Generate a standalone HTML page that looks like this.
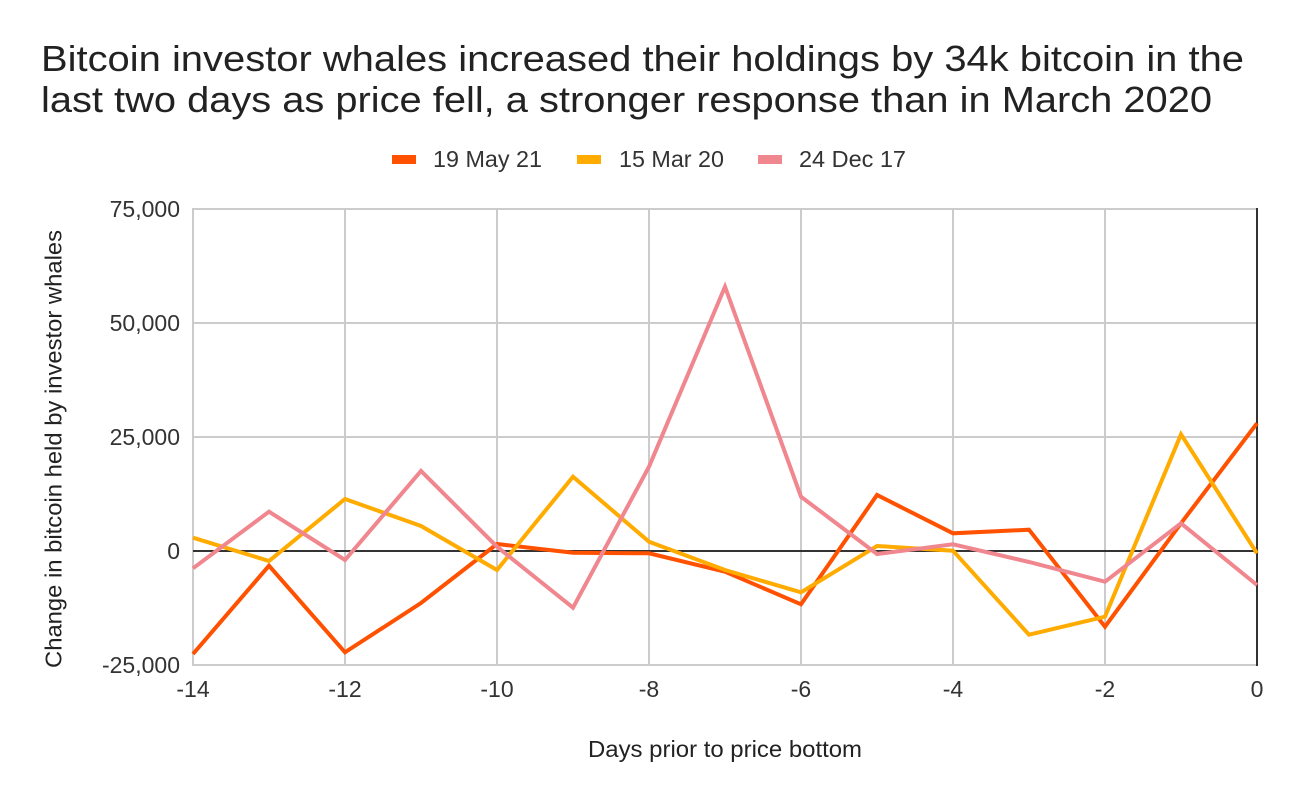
<!DOCTYPE html>
<html>
<head>
<meta charset="utf-8">
<style>
html,body{margin:0;padding:0;background:#fff;}
svg{display:block;}
text{font-family:"Liberation Sans",Arial,sans-serif;}
</style>
</head>
<body>
<svg width="1298" height="802" viewBox="0 0 1298 802" xmlns="http://www.w3.org/2000/svg">
<rect x="0" y="0" width="1298" height="802" fill="#fff"/>
<!-- Title -->
<text x="41" y="71" font-size="36" fill="#222" textLength="1203" lengthAdjust="spacingAndGlyphs">Bitcoin investor whales increased their holdings by 34k bitcoin in the</text>
<text x="41" y="112" font-size="36" fill="#222" textLength="1171" lengthAdjust="spacingAndGlyphs">last two days as price fell, a stronger response than in March 2020</text>
<!-- Legend -->
<rect x="392" y="155" width="24" height="9" fill="#FF5100"/>
<text x="433" y="167" font-size="23" fill="#333" textLength="109" lengthAdjust="spacingAndGlyphs">19 May 21</text>
<rect x="577" y="155" width="24" height="9" fill="#FFAB00"/>
<text x="619" y="167" font-size="23" fill="#333" textLength="105" lengthAdjust="spacingAndGlyphs">15 Mar 20</text>
<rect x="758" y="155" width="24" height="9" fill="#F0868E"/>
<text x="799" y="167" font-size="23" fill="#333" textLength="107" lengthAdjust="spacingAndGlyphs">24 Dec 17</text>
<!-- Grid -->
<g stroke="#cccccc" stroke-width="2" fill="none">
<line x1="192" y1="209" x2="1257" y2="209"/>
<line x1="192" y1="323" x2="1257" y2="323"/>
<line x1="192" y1="437" x2="1257" y2="437"/>
<line x1="192" y1="665" x2="1257" y2="665"/>
<line x1="193" y1="208" x2="193" y2="666"/>
<line x1="345" y1="208" x2="345" y2="666"/>
<line x1="497" y1="208" x2="497" y2="666"/>
<line x1="649" y1="208" x2="649" y2="666"/>
<line x1="801" y1="208" x2="801" y2="666"/>
<line x1="953" y1="208" x2="953" y2="666"/>
<line x1="1105" y1="208" x2="1105" y2="666"/>
</g>
<!-- Baselines -->
<line x1="193" y1="551" x2="1257" y2="551" stroke="#333" stroke-width="2"/>
<line x1="1257" y1="208" x2="1257" y2="666" stroke="#333" stroke-width="2"/>
<!-- Series -->
<g fill="none" stroke-width="4" stroke-linejoin="miter" stroke-linecap="butt">
<polyline stroke="#FF5100" points="193,654 269,565.7 345,652.3 421,603 497,544 573,552.7 649,553.3 725,571.7 801,604.3 877,495 953,533.3 1029,529.7 1105,626.7 1181,523.3 1257,423.3"/>
<polyline stroke="#FFAB00" points="193,537.7 269,561 345,499 421,526 497,570 573,476.7 649,541.7 725,570 801,592.3 877,546 953,550.7 1029,634.7 1105,616.7 1181,434.3 1257,553.3"/>
<polyline stroke="#F0868E" points="193,568.3 269,511.7 345,560 421,471 497,546.7 573,607.7 649,466.7 725,286.7 801,496.7 877,554 953,544.3 1029,562 1105,581.7 1181,523.3 1257,585"/>
</g>
<!-- Y tick labels -->
<g font-size="23" fill="#333" text-anchor="end">
<text x="180" y="217">75,000</text>
<text x="180" y="331">50,000</text>
<text x="180" y="445">25,000</text>
<text x="180" y="559">0</text>
<text x="180" y="673">-25,000</text>
</g>
<!-- X tick labels -->
<g font-size="23" fill="#333" text-anchor="middle">
<text x="193" y="697">-14</text>
<text x="345" y="697">-12</text>
<text x="497" y="697">-10</text>
<text x="649" y="697">-8</text>
<text x="801" y="697">-6</text>
<text x="953" y="697">-4</text>
<text x="1105" y="697">-2</text>
<text x="1257" y="697">0</text>
</g>
<!-- Axis titles -->
<text x="725" y="757" font-size="23" fill="#222" text-anchor="middle" textLength="274" lengthAdjust="spacingAndGlyphs">Days prior to price bottom</text>
<text transform="translate(61.5,449) rotate(-90)" x="0" y="0" font-size="23" fill="#222" text-anchor="middle" textLength="438" lengthAdjust="spacingAndGlyphs">Change in bitcoin held by investor whales</text>
</svg>
</body>
</html>
